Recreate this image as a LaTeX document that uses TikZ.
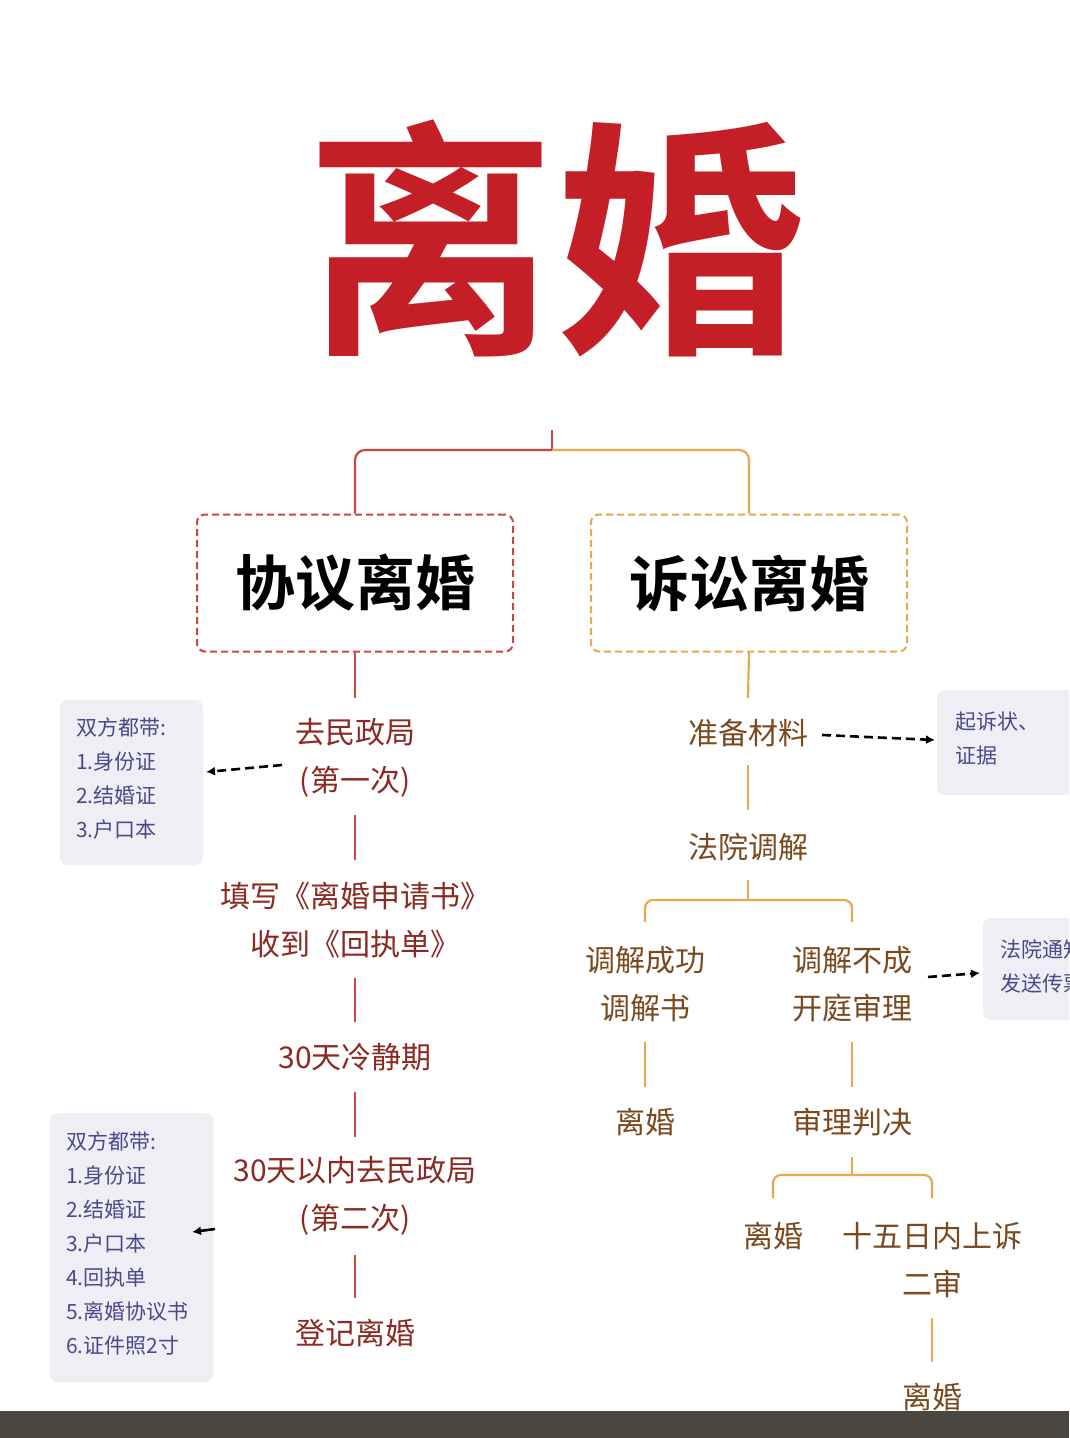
\documentclass[tikz,border=0pt]{standalone}
\usepackage{fontspec}
\setmainfont{Noto Sans CJK SC}
\newfontfamily\cjkb{Noto Sans CJK SC Bold}
\usetikzlibrary{arrows.meta}
\definecolor{tred}{HTML}{C41E26}
\definecolor{lred}{HTML}{C9483E}
\definecolor{ltxt}{HTML}{8A2A22}
\definecolor{orn}{HTML}{E8A850}
\definecolor{rtxt}{HTML}{7A4A1E}
\definecolor{sbg}{HTML}{EEEEF4}
\definecolor{stxt}{HTML}{4A4A8A}
\definecolor{strip}{HTML}{4A4740}
\tikzset{x=1pt,y=-1pt,
 ltext/.style={text=ltxt,font=\fontsize{30}{48}\selectfont,align=center},
 rtext/.style={text=rtxt,font=\fontsize{30}{48}\selectfont,align=center},
 sidebox/.style={fill=sbg,rounded corners=8pt},
 stext/.style={text=stxt,font=\fontsize{21}{34}\selectfont,align=left,anchor=north west,inner sep=0pt},
 lline/.style={draw=lred,line width=2.2pt},
 rline/.style={draw=orn,line width=2.2pt},
 darr/.style={draw=black,dash pattern=on 9pt off 5pt,line width=2.6pt,-{Latex[length=9pt,width=9pt]}},
 bigbox/.style={draw,dash pattern=on 7pt off 4pt,line width=2pt,rounded corners=8pt,minimum width=316pt,minimum height=137pt,font=\cjkb\fontsize{60}{60}\selectfont}}
\begin{document}
\begin{tikzpicture}
\useasboundingbox (0,0) rectangle (1069,1438);
\clip (0,0) rectangle (1069,1438);
\fill[white] (0,0) rectangle (1069,1438);
\node[text=tred,font=\cjkb\fontsize{250}{250}\selectfont] (title) at (555,238) {离婚};
% top tree
\coordinate (top) at (552,430);
\coordinate (mid) at (552,450);
\node[bigbox,draw=lred] (xy) at (355,583) {协议离婚};
\node[bigbox,draw=orn] (ss) at (749,583) {诉讼离婚};
\draw[lline] (top) -- (mid);
\draw[lline,rounded corners=10pt] (mid) -| (xy.north);
\draw[rline,rounded corners=10pt] (mid) -| (ss.north);
% left column
\node[ltext] (l1) at (355,758) {去民政局\\(第一次)};
\node[ltext] (l2) at (355,920) {填写《离婚申请书》\\收到《回执单》};
\node[ltext] (l3) at (355,1057) {30天冷静期};
\node[ltext] (l4) at (355,1196) {30天以内去民政局\\(第二次)};
\node[ltext] (l5) at (355,1333) {登记离婚};
\coordinate (a0) at (355,652); \coordinate (a1) at (355,698);
\coordinate (b0) at (355,815); \coordinate (b1) at (355,860);
\coordinate (c0) at (355,978); \coordinate (c1) at (355,1022);
\coordinate (d0) at (355,1092); \coordinate (d1) at (355,1137);
\coordinate (e0) at (355,1255); \coordinate (e1) at (355,1298);
\foreach \p/\q in {a0/a1,b0/b1,c0/c1,d0/d1,e0/e1} \draw[lline] (\p) -- (\q);
% left side boxes
\fill[sidebox] (60,700) rectangle (203,865);
\node[stext] (s1) at (76,718) {双方都带:\\1.身份证\\2.结婚证\\3.户口本};
\coordinate (s1a) at (282,765); \coordinate (s1b) at (206,772);
\draw[darr] (s1a) -- (s1b);
\fill[sidebox] (50,1113) rectangle (213,1382);
\node[stext] (s2) at (66,1132) {双方都带:\\1.身份证\\2.结婚证\\3.户口本\\4.回执单\\5.离婚协议书\\6.证件照2寸};
\coordinate (s2a) at (215,1229); \coordinate (s2b) at (192,1232);
\draw[darr,dash pattern=on 20pt off 2pt] (s2a) -- (s2b);
% right column
\node[rtext] (r1) at (748,733) {准备材料};
\node[rtext] (r2) at (748,847) {法院调解};
\draw[rline] (ss.south) -- (748,698);
\draw[rline] (748,765) -- (748,810);
\fill[sidebox] (937,690) rectangle (1090,795);
\node[stext] (s3) at (955,712) {起诉状、\\证据};
\coordinate (r1a) at (822,735); \coordinate (r1b) at (935,740);
\draw[darr] (r1a) -- (r1b);
\node[rtext] (r3) at (645,984) {调解成功\\调解书};
\node[rtext] (r4) at (852,984) {调解不成\\开庭审理};
\draw[rline] (748,880) -- (748,900);
\draw[rline,rounded corners=8pt] (645,922) |- (852,900) -- (852,922);
\fill[sidebox] (983,918) rectangle (1120,1020);
\node[stext] (s4) at (1000,939) {法院通知\\发送传票};
\coordinate (r4a) at (928,977); \coordinate (r4b) at (980,973);
\draw[darr] (r4a) -- (r4b);
\node[rtext] (r5) at (645,1122) {离婚};
\node[rtext] (r6) at (852,1122) {审理判决};
\draw[rline] (645,1042) -- (645,1087);
\draw[rline] (852,1042) -- (852,1087);
\draw[rline] (852,1157) -- (852,1175);
\draw[rline,rounded corners=8pt] (773,1198) |- (932,1175) -- (932,1198);
\node[rtext] (r7) at (773,1236) {离婚};
\node[rtext] (r8) at (932,1260) {十五日内上诉\\二审};
\draw[rline] (932,1318) -- (932,1362);
\node[rtext] (r9) at (932,1397) {离婚};
\fill[strip] (0,1411) rectangle (1069,1438);
\end{tikzpicture}
\end{document}
